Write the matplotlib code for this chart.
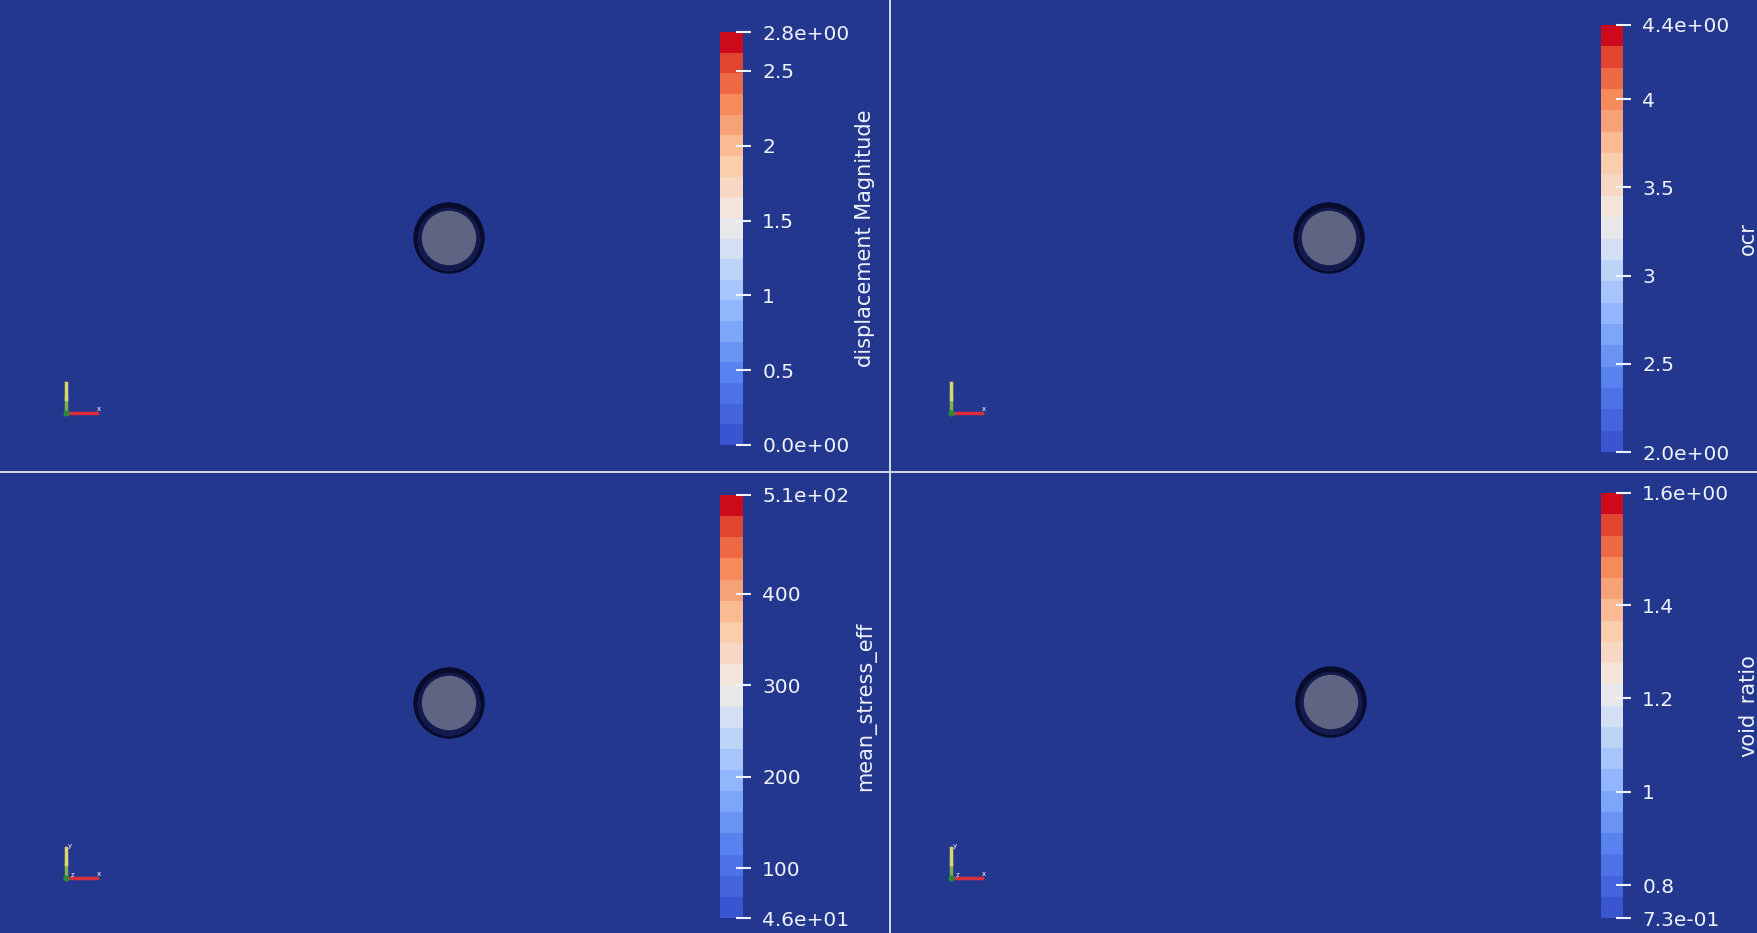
import matplotlib
matplotlib.use('Agg')
import matplotlib.pyplot as plt
from matplotlib.colorbar import ColorbarBase
from matplotlib.colors import Normalize, LinearSegmentedColormap
from matplotlib.patches import Circle

# colour bar data, one entry per view (top-left, top-right, bottom-left, bottom-right)
fields = ['displacement Magnitude', 'ocr', 'mean_stress_eff', 'void_ratio']
vmins = [0.0, 2.0, 45.7, 0.73]
vmaxs = [2.76, 4.42, 508.0, 1.64]
mid_ticks = [[0.5, 1, 1.5, 2, 2.5],
             [2.5, 3, 3.5, 4],
             [100, 200, 300, 400],
             [0.8, 1, 1.2, 1.4]]
n_colors = 20

W, H = 1757, 933
bg = '#24378f'
txt = '#eef2fa'


def px(x0, y0, x1, y1):
    # pixel box (top-left origin) -> figure fraction rect
    return [x0 / W, 1 - y1 / H, (x1 - x0) / W, (y1 - y0) / H]


fig = plt.figure(figsize=(W / 100, H / 100), dpi=100)
fig.patch.set_facecolor('#cdd8e6')

# panel boxes, bar boxes, circle centres, triad origins (pixels)
panels = [(0, 0, 889, 471), (891, 0, W, 471), (0, 473, 889, H), (891, 473, W, H)]
bars = [(720, 32, 743, 445), (1601, 25, 1623, 452), (720, 495, 743, 918), (1601, 493, 1623, 918)]
centres = [(449, 238), (438, 238), (449, 230), (440, 229)]
triads = [(66, 413), (60, 413), (66, 405), (60, 405)]
title_x = [871, 1754, 871, 1754]

# paraview-ish cool to warm, a bit brighter than mpl coolwarm
cmap = LinearSegmentedColormap.from_list('cw', [
    (0.0, '#3a55d2'), (0.15, '#557fee'), (0.3, '#8ab2fb'), (0.45, '#c9dcf8'),
    (0.55, '#f2ebe6'), (0.7, '#fbcaa6'), (0.85, '#f58756'), (0.95, '#e0432e'),
    (1.0, '#cc0a1c')], N=n_colors)

for i in range(4):
    x0, y0, x1, y1 = panels[i]
    ax = fig.add_axes(px(x0, y0, x1, y1))
    ax.set_facecolor(bg)
    ax.set_xlim(0, x1 - x0)
    ax.set_ylim(y1 - y0, 0)
    ax.set_xticks([])
    ax.set_yticks([])
    for s in ax.spines.values():
        s.set_visible(False)

    # the sphere: dark rim + grey face
    cx, cy = centres[i]
    ax.add_patch(Circle((cx, cy), 35, color='#080c2c', zorder=2))
    ax.add_patch(Circle((cx, cy + 1.5), 31, color='#131b4e', zorder=3))
    ax.add_patch(Circle((cx, cy), 26.5, color='#5f6482', zorder=4))

    # orientation triad
    tx, ty = triads[i]
    ax.plot([tx, tx], [ty, ty - 14], color='#7fb04a', lw=2.5, zorder=5)
    ax.plot([tx, tx], [ty - 14, ty - 30], color='#d8d86a', lw=2.5, zorder=5)
    ax.plot([tx, tx + 31], [ty, ty], color='#d8303c', lw=2.5, zorder=5)
    ax.plot([tx], [ty], 'o', color='#2a8a3a', ms=3.5, zorder=6)
    ax.text(tx + 33, ty - 4, 'x', color='white', fontsize=5, ha='center', va='center')
    if i >= 2:
        ax.text(tx + 4, ty - 32, 'y', color='white', fontsize=5, ha='center', va='center')
        ax.text(tx + 7, ty - 3, 'z', color='white', fontsize=5, ha='center', va='center')

    # colour bar
    cax = fig.add_axes(px(*bars[i]))
    cb = ColorbarBase(cax, cmap=cmap, norm=Normalize(vmins[i], vmaxs[i]),
                      orientation='vertical')
    cb.outline.set_visible(False)
    ticks = [vmins[i]] + mid_ticks[i] + [vmaxs[i]]
    labels = ['%.1e' % vmins[i]] + ['%g' % t for t in mid_ticks[i]] + ['%.1e' % vmaxs[i]]
    cb.set_ticks(ticks)
    cb.set_ticklabels(labels)
    cb.minorticks_off()
    cax.tick_params(direction='inout', length=10.8, width=1.5, color=txt,
                    labelcolor=txt, labelsize=14.5, pad=8.5)

    fig.text(title_x[i] / W, 1 - (bars[i][1] + bars[i][3]) / 2 / H, fields[i],
             rotation=90, rotation_mode='anchor', ha='center', va='baseline',
             color=txt, fontsize=15)

fig.savefig('out.png', dpi=100, facecolor=fig.get_facecolor())
